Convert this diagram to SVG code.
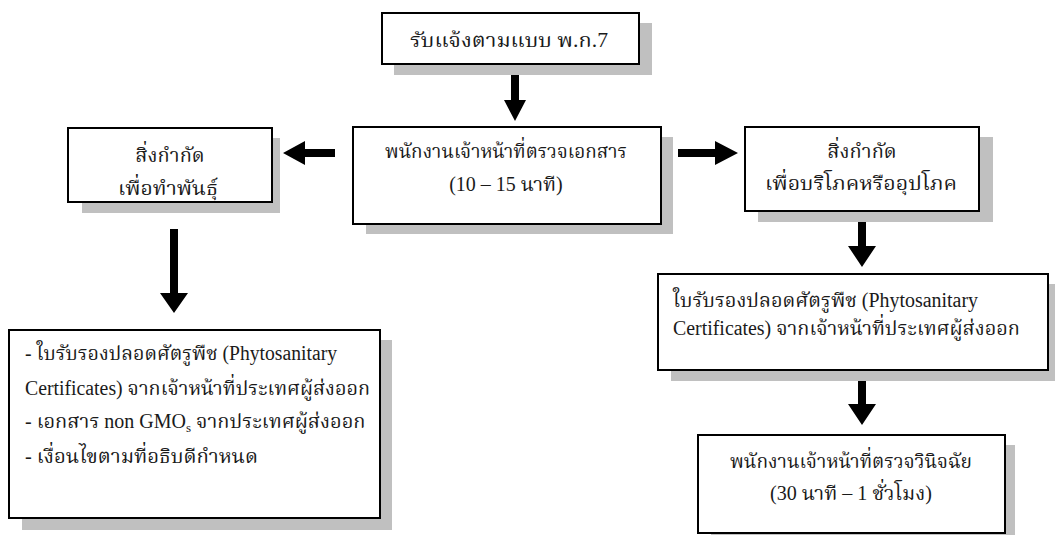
<svg xmlns="http://www.w3.org/2000/svg" width="1055" height="535" viewBox="0 0 1055 535">
<style>
.shadow{fill:#c0c0c0;}
.box{fill:#ffffff;stroke:#000000;stroke-width:2;}
.t{font-family:"Liberation Serif","Noto Serif Thai","Noto Sans Thai","DejaVu Serif",serif;font-size:20px;fill:#1a1a1a;}
.c{text-anchor:middle;}
.arrow{fill:#000000;}
</style>
<rect width="1055" height="535" fill="#ffffff"/>
<g id="connectors">
<polygon class="arrow" points="511,70 519,70 519,100 526,100 515,121 504,100 511,100"/>
<polygon class="arrow" points="335,149 335,157 305,157 305,165 283,153 305,141 305,149"/>
<polygon class="arrow" points="678,149 678,157 715,157 715,165 738,153 715,141 715,149"/>
<polygon class="arrow" points="170,229 178,229 178,293 188,293 174,313 160,293 170,293"/>
<polygon class="arrow" points="858,222 866,222 866,246 876,246 862,267 848,246 858,246"/>
<polygon class="arrow" points="858,381 866,381 866,404 876,404 862,425 848,404 858,404"/>
</g>
<g id="n1">
<rect class="shadow" x="394" y="23" width="258" height="52"/>
<rect class="box" x="382" y="13" width="257" height="51"/>
<text class="t c" x="509" y="47" textLength="198" lengthAdjust="spacingAndGlyphs">รับแจ้งตามแบบ พ.ก.7</text>
</g>
<g id="n2">
<rect class="shadow" x="366" y="137" width="307" height="97"/>
<rect class="box" x="353" y="127" width="308" height="97"/>
<text class="t c" x="506" y="158" textLength="242" lengthAdjust="spacingAndGlyphs">พนักงานเจ้าหน้าที่ตรวจเอกสาร</text>
<text class="t c" x="506" y="191">(10 – 15 นาที)</text>
</g>
<g id="n3">
<rect class="shadow" x="82" y="138" width="198" height="75"/>
<rect class="box" x="68" y="128" width="204" height="74"/>
<text class="t c" x="170" y="162">สิ่งกำกัด</text>
<text class="t c" x="168" y="195" textLength="100" lengthAdjust="spacingAndGlyphs">เพื่อทำพันธุ์</text>
</g>
<g id="n4">
<rect class="shadow" x="758" y="137" width="235" height="85"/>
<rect class="box" x="745" y="127" width="234" height="84"/>
<text class="t c" x="862" y="158">สิ่งกำกัด</text>
<text class="t c" x="861" y="190" textLength="192" lengthAdjust="spacingAndGlyphs">เพื่อบริโภคหรืออุปโภค</text>
</g>
<g id="n5">
<rect class="shadow" x="22" y="340" width="370" height="190"/>
<rect class="box" x="9" y="330" width="371" height="188"/>
<text class="t" x="25" y="360" textLength="312" lengthAdjust="spacingAndGlyphs">- ใบรับรองปลอดศัตรูพืช (Phytosanitary</text>
<text class="t" x="25" y="395" textLength="345" lengthAdjust="spacingAndGlyphs">Certificates) จากเจ้าหน้าที่ประเทศผู้ส่งออก</text>
<text class="t" x="25" y="428">- เอกสาร non GMO<tspan font-size="13" dy="4">s</tspan><tspan dy="-4"> จากประเทศผู้ส่งออก</tspan></text>
<text class="t" x="25" y="463" textLength="233" lengthAdjust="spacingAndGlyphs">- เงื่อนไขตามที่อธิบดีกำหนด</text>
</g>
<g id="n6">
<rect class="shadow" x="671" y="284" width="384" height="97"/>
<rect class="box" x="658" y="274" width="390" height="96"/>
<text class="t" x="673" y="307" textLength="305" lengthAdjust="spacingAndGlyphs">ใบรับรองปลอดศัตรูพืช (Phytosanitary</text>
<text class="t" x="673" y="335" textLength="347" lengthAdjust="spacingAndGlyphs">Certificates) จากเจ้าหน้าที่ประเทศผู้ส่งออก</text>
</g>
<g id="n7">
<rect class="shadow" x="711" y="445" width="304" height="90"/>
<rect class="box" x="698" y="435" width="307" height="98"/>
<text class="t c" x="851" y="468" textLength="242" lengthAdjust="spacingAndGlyphs">พนักงานเจ้าหน้าที่ตรวจวินิจฉัย</text>
<text class="t c" x="851" y="500" textLength="162" lengthAdjust="spacingAndGlyphs">(30 นาที – 1 ชั่วโมง)</text>
</g>
</svg>
